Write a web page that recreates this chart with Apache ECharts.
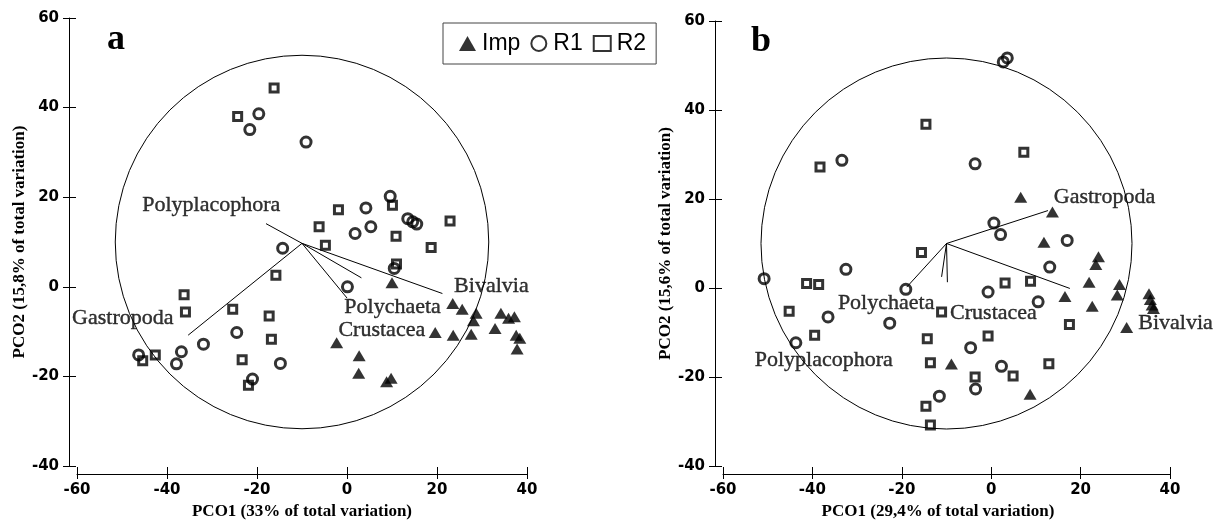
<!DOCTYPE html>
<html>
<head>
<meta charset="utf-8">
<script src="https://cdn.jsdelivr.net/npm/echarts@6/dist/echarts.min.js"></script>
<style>
  html, body { margin: 0; padding: 0; background: #fff; }
  #chart { width: 1227px; height: 525px; }
</style>
</head>
<body>
<div id="chart"></div>
<script>
// PCO ordination scores, panel a (PCO1 vs PCO2)
const impA = [[10.0, 0.9], [23.5, -3.7], [25.6, -5.0], [28.7, -5.9], [28.1, -7.6], [34.2, -5.9],
  [35.9, -7.0], [37.2, -6.7], [32.9, -9.3], [19.6, -10.2], [23.6, -10.8], [27.6, -10.6],
  [37.6, -10.8], [38.4, -11.5], [37.8, -13.9], [-2.3, -12.5], [2.7, -15.4], [2.6, -19.3],
  [8.8, -21.2], [9.8, -20.4]];
const r1A = [[-19.6, 38.6], [-21.6, 35.1], [-9.1, 32.3], [-14.3, 8.6], [9.6, 20.2], [4.2, 17.6],
  [5.3, 13.4], [1.8, 11.9], [13.5, 15.2], [14.6, 14.5], [15.5, 14.0], [10.5, 4.1], [0.1, 0.0],
  [-24.5, -10.2], [-31.9, -12.8], [-36.8, -14.5], [-37.9, -17.2], [-46.3, -15.2],
  [-14.8, -17.1], [-21.0, -20.6]];
const r2A = [[-16.2, 44.4], [-24.3, 38.0], [-6.2, 13.4], [10.1, 18.2], [-1.9, 17.2], [10.9, 11.3],
  [22.9, 14.7], [18.7, 8.8], [-4.8, 9.3], [11.0, 5.1], [-15.8, 2.6], [-36.2, -1.8],
  [-35.9, -5.6], [-25.4, -5.0], [-17.3, -6.5], [-16.8, -11.7], [-42.6, -15.2],
  [-45.4, -16.5], [-23.3, -16.3], [-21.9, -22.0]];

// PCO ordination scores, panel b
const impB = [[6.6, 20.4], [13.7, 17.1], [11.8, 10.3], [24.0, 7.0], [23.4, 5.3], [21.9, 1.3],
  [28.7, 0.8], [28.2, -1.6], [16.5, -1.9], [22.6, -4.1], [35.3, -1.3], [35.6, -2.6],
  [36.0, -3.8], [36.3, -4.6], [30.3, -8.9], [-8.9, -17.1], [8.7, -23.9]];
const r1B = [[2.7, 50.8], [3.6, 51.7], [-33.4, 28.7], [-3.6, 27.9], [0.6, 14.6], [2.1, 12.0],
  [17.0, 10.7], [-50.8, 2.1], [-32.5, 4.2], [-19.1, -0.3], [-36.5, -6.5], [-22.7, -7.9],
  [-43.7, -12.3], [13.1, 4.7], [-0.7, -0.9], [10.5, -3.1], [-4.6, -13.4], [2.3, -17.6],
  [-3.5, -22.7], [-11.6, -24.3]];
const r2B = [[-38.3, 27.2], [-14.6, 36.8], [7.3, 30.5], [-15.6, 8.0], [-41.3, 1.0], [-38.6, 0.8],
  [-45.2, -5.2], [-39.5, -10.6], [3.1, 1.1], [8.8, 1.5], [-11.1, -5.4], [17.5, -8.2],
  [-14.3, -11.4], [-0.7, -10.8], [-13.6, -16.8], [12.9, -17.0], [4.9, -19.8], [-3.6, -20.0],
  [-14.6, -26.6], [-13.6, -30.8]];

// Taxon vectors: [name, x0, y0, x1, y1]
const vectorsA = [['Polyplacophora', -10, 9.7, -18.0, 14.1], ['Gastropoda', -10, 9.7, -35.3, -10.8],
  ['Polychaeta', -10, 9.7, 0.0, -2.5], ['Crustacea', -10, 9.7, 3.2, 2.0], ['Bivalvia', -10, 9.7, 21.2, -1.5]];
const vectorsB = [['Gastropoda', -10, 10, 12.7, 17.4], ['Polychaeta', -10, 10, -18.9, 0.2],
  ['Crustacea', -10, 10, -11.1, 2.5], ['Polyplacophora', -10, 10, -9.8, 1.3], ['Bivalvia', -10, 10, 17.6, -0.1]];

// Correlation circle: [centre x, centre y, radius]
const circleA = [[-10, 10, 41.5]];
const circleB = [[-10, 10, 41.5]];

// Where each taxon name sits (left edge, vertical middle)
const taxonLabelsA = [['Polyplacophora', -45.5, 18.2], ['Gastropoda', -61.1, -7.0],
  ['Polychaeta', -0.6, -4.6], ['Crustacea', -1.9, -9.6], ['Bivalvia', 23.8, 0.1]];
const taxonLabelsB = [['Gastropoda', 14.0, 20.4], ['Polychaeta', -34.3, -3.4],
  ['Crustacea', -9.2, -5.7], ['Bivalvia', 32.9, -8.0], ['Polyplacophora', -52.9, -16.2]];

// Axis ranges and titles
const xRange = [-60, 40];
const yRange = [-40, 60];
const tickStep = 20;
const xTitles = ['PCO1 (33% of total variation)', 'PCO1 (29,4% of total variation)'];
const yTitles = ['PCO2 (15,8% of total variation)', 'PCO2 (15,6% of total variation)'];
const groups = ['Imp', 'R1', 'R2'];

const SERIF = '"Liberation Serif", "Times New Roman", serif';
const SANS = '"DejaVu Sans", sans-serif';

const chart = echarts.init(document.getElementById('chart'), null, { renderer: 'canvas' });

function mainX(grid, title, gapShift) {
  return {
    type: 'value', gridIndex: grid, min: xRange[0], max: xRange[1], interval: tickStep,
    position: 'bottom', offset: 8,
    axisLine: { show: true, onZero: false, lineStyle: { color: '#000', width: 1 } },
    axisTick: { show: true, inside: false, length: 5, lineStyle: { color: '#000' } },
    axisLabel: { color: '#000', fontFamily: SANS, fontWeight: 'bold', fontSize: 15, margin: 9 },
    splitLine: { show: false },
    name: title, nameLocation: 'middle', nameGap: 29,
    nameTextStyle: { color: '#000', fontFamily: SERIF, fontWeight: 'bold', fontSize: 17, padding: gapShift }
  };
}
function mainY(grid, title) {
  return {
    type: 'value', gridIndex: grid, min: yRange[0], max: yRange[1], interval: tickStep,
    position: 'left', offset: 8,
    axisLine: { show: true, onZero: false, lineStyle: { color: '#000', width: 1 } },
    axisTick: { show: true, inside: false, length: 6, lineStyle: { color: '#000' } },
    axisLabel: { color: '#000', fontFamily: SANS, fontWeight: 'bold', fontSize: 15, margin: 10 },
    splitLine: { show: false },
    name: title, nameLocation: 'middle', nameGap: 41,
    nameTextStyle: { color: '#000', fontFamily: SERIF, fontWeight: 'bold', fontSize: 17 }
  };
}
// companion axes that draw the inner half of each tick mark
function innerX(grid) {
  return {
    type: 'value', gridIndex: grid, min: xRange[0], max: xRange[1], interval: tickStep,
    position: 'bottom', offset: 8,
    axisLine: { show: false, onZero: false }, axisLabel: { show: false }, splitLine: { show: false },
    axisTick: { show: true, inside: true, length: 7, lineStyle: { color: '#000' } }
  };
}
function innerY(grid) {
  return {
    type: 'value', gridIndex: grid, min: yRange[0], max: yRange[1], interval: tickStep,
    position: 'left', offset: 8,
    axisLine: { show: false, onZero: false }, axisLabel: { show: false }, splitLine: { show: false },
    axisTick: { show: true, inside: true, length: 7, lineStyle: { color: '#000' } }
  };
}

const hollow = { color: 'rgba(0,0,0,0)', borderColor: '#000', borderWidth: 3 };

function panelSeries(ax, imp, r1, r2, circle, vectors, labels) {
  return [
    {
      type: 'custom', xAxisIndex: ax, yAxisIndex: ax, data: circle, silent: true, z: 1,
      renderItem: (params, api) => {
        const c = api.coord([api.value(0), api.value(1)]);
        const r = api.size([api.value(2), 0])[0];
        return { type: 'circle', shape: { cx: c[0], cy: c[1], r: r },
          style: { fill: 'none', stroke: '#000', lineWidth: 1 } };
      }
    },
    {
      type: 'custom', xAxisIndex: ax, yAxisIndex: ax, silent: true, z: 2,
      data: vectors.map(v => [v[1], v[2], v[3], v[4]]),
      renderItem: (params, api) => {
        const p0 = api.coord([api.value(0), api.value(1)]);
        const p1 = api.coord([api.value(2), api.value(3)]);
        return { type: 'line', shape: { x1: p0[0], y1: p0[1], x2: p1[0], y2: p1[1] },
          style: { stroke: '#000', lineWidth: 1 } };
      }
    },
    { name: 'Imp', type: 'scatter', xAxisIndex: ax, yAxisIndex: ax, data: imp, z: 4,
      symbol: 'triangle', symbolSize: [13, 11], itemStyle: { color: '#000' } },
    { name: 'R1', type: 'scatter', xAxisIndex: ax, yAxisIndex: ax, data: r1, z: 4,
      symbol: 'circle', symbolSize: 10, itemStyle: hollow },
    { name: 'R2', type: 'scatter', xAxisIndex: ax, yAxisIndex: ax, data: r2, z: 4,
      symbol: 'rect', symbolSize: 8, itemStyle: hollow },
    {
      type: 'scatter', xAxisIndex: ax, yAxisIndex: ax, symbolSize: 0, silent: true, z: 5,
      clip: false,
      data: labels.map(l => ({ name: l[0], value: [l[1], l[2]] })),
      label: { show: true, position: 'inside', align: 'left', verticalAlign: 'middle',
        formatter: '{b}', color: '#000', fontFamily: SERIF, fontSize: 22,
        textBorderColor: '#000', textBorderWidth: 0.4 }
    }
  ];
}

chart.setOption({
  animation: false,
  backgroundColor: '#fff',
  grid: [
    { left: 77, top: 18, width: 450, height: 449 },
    { left: 723, top: 21, width: 447, height: 445 }
  ],
  xAxis: [mainX(0, xTitles[0], 0), mainX(1, xTitles[1], [0, 17, 0, 0]), innerX(0), innerX(1)],
  yAxis: [mainY(0, yTitles[0]), mainY(1, yTitles[1]), innerY(0), innerY(1)],
  legend: {
    data: groups, left: 443, top: 23, orient: 'horizontal',
    padding: [9, 10, 9, 16], itemGap: 10, itemWidth: 17, itemHeight: 15,
    borderColor: '#444', borderWidth: 1, selectedMode: false,
    textStyle: { color: '#000', fontFamily: '"Liberation Sans", Arial, sans-serif', fontSize: 23, padding: [0, 0, 0, 1] }
  },
  graphic: [
    { type: 'text', left: 107, top: 22, style: { text: 'a', font: 'bold 36px ' + SERIF, fill: '#000' } },
    { type: 'text', left: 751, top: 24, style: { text: 'b', font: 'bold 36px ' + SERIF, fill: '#000' } }
  ],
  series: [
    ...panelSeries(0, impA, r1A, r2A, circleA, vectorsA, taxonLabelsA),
    ...panelSeries(1, impB, r1B, r2B, circleB, vectorsB, taxonLabelsB)
  ]
});
</script>
</body>
</html>
